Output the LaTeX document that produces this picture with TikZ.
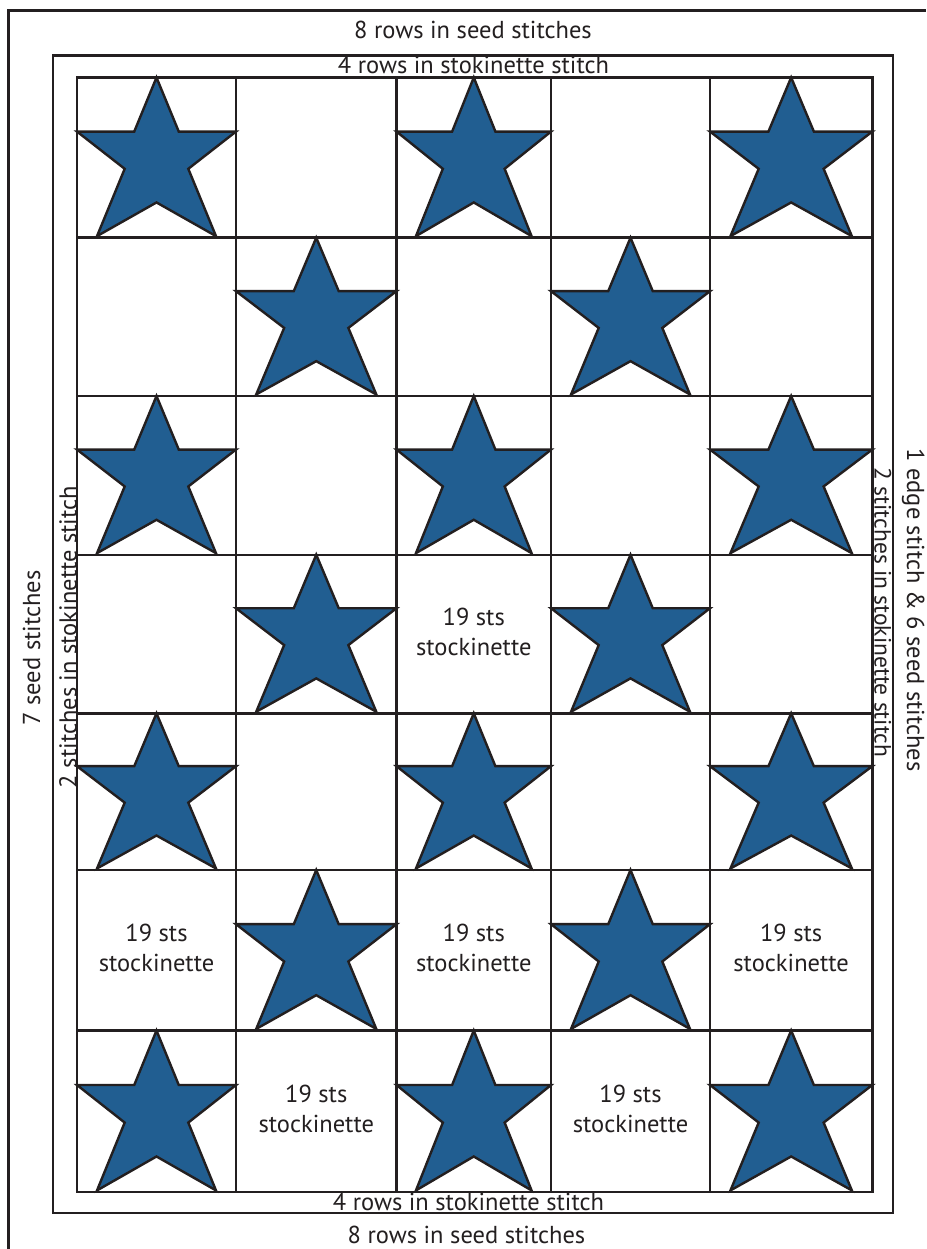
\documentclass[tikz,border=0pt]{standalone}
\usepackage{fontspec}
\setmainfont{PT Sans}
\definecolor{starblue}{HTML}{215E91}
\definecolor{ink}{HTML}{231F20}
\begin{document}
\begin{tikzpicture}[x=1pt,y=-1pt,
  frame/.style={draw=ink, line width=2.4pt},
  starshape/.style={fill=starblue, draw=ink, line width=2.4pt, line join=miter},
  lbl/.style={font=\fontsize{24.5}{30}\selectfont, text=ink, inner sep=0pt},
  celltext/.style={lbl, align=center}]
\useasboundingbox (0,0) rectangle (926,1249);
\fill[white] (0,0) rectangle (926,1249);
% outer and middle frames
\draw[frame] (8.5,1249) -- (8.5,10.5) -- (926,10.5);
\draw[frame] (53,55.5) rectangle (892.7,1213);
% grid
\def\xs{{77,236,396.5,551,710,872.3}}
\def\ys{{77.5,237.7,396,554.7,713.3,870,1030.5,1192}}
\draw[frame] (77,77.5) rectangle (872.3,1192);
\foreach \c in {1,...,4}{
  \pgfmathsetmacro\xx{\xs[\c]}
  \draw[frame] (\xx,77.5) -- (\xx,1192);
}
\foreach \r in {1,...,6}{
  \pgfmathsetmacro\yy{\ys[\r]}
  \draw[frame] (77,\yy) -- (872.3,\yy);
}
% stars
\foreach \r in {0,...,6}{\foreach \c in {0,...,4}{
  \pgfmathtruncatemacro\odd{mod(\r+\c,2)}
  \ifnum\odd=0
    \pgfmathtruncatemacro\cn{\c+1}
    \pgfmathtruncatemacro\rn{\r+1}
    \pgfmathsetmacro\xl{\xs[\c]}
    \pgfmathsetmacro\xr{\xs[\cn]}
    \pgfmathsetmacro\yt{\ys[\r]}
    \pgfmathsetmacro\yb{\ys[\rn]}
    \pgfmathsetmacro\sw{\xr-\xl}
    \pgfmathsetmacro\sh{\yb-\yt}
    \draw[starshape] (\xl+0.5*\sw,\yt) -- (\xl+0.64*\sw,\yt+0.3375*\sh)
      -- (\xl+\sw,\yt+0.3375*\sh) -- (\xl+0.7*\sw,\yt+0.57*\sh)
      -- (\xl+0.874*\sw,\yt+0.99*\sh) -- (\xl+0.5*\sw,\yt+0.78*\sh)
      -- (\xl+0.126*\sw,\yt+0.99*\sh) -- (\xl+0.3*\sw,\yt+0.57*\sh)
      -- (\xl,\yt+0.3375*\sh) -- (\xl+0.36*\sw,\yt+0.3375*\sh) -- cycle;
  \fi
}}
% cell texts
\foreach \r/\c in {3/2,5/0,5/2,5/4,6/1,6/3}{
  \pgfmathtruncatemacro\cn{\c+1}
  \pgfmathtruncatemacro\rn{\r+1}
  \pgfmathsetmacro\xl{\xs[\c]}
  \pgfmathsetmacro\xr{\xs[\cn]}
  \pgfmathsetmacro\yt{\ys[\r]}
  \pgfmathsetmacro\yb{\ys[\rn]}
  \pgfmathsetmacro\cx{(\xl+\xr)/2}
  \pgfmathsetmacro\cy{(\yt+\yb)/2-2}
  \node[celltext] (t\r\c) at (\cx,\cy) {19 sts\\stockinette};
}
% margin labels
\node[lbl, anchor=base] (topouter) at (473,38.3) {8 rows in seed stitches};
\node[lbl, anchor=base] (topinner) at (473.5,74) {4 rows in stokinette stitch};
\node[lbl, anchor=base] (botinner) at (468.5,1210) {4 rows in stokinette stitch};
\node[lbl, anchor=base] (botouter) at (466.5,1243) {8 rows in seed stitches};
\node[lbl, anchor=base, rotate=90] (leftouter) at (40,648) {7 seed stitches};
\node[lbl, anchor=base, rotate=90] (leftinner) at (76.5,637) {2 stitches in stokinette stitch};
\node[lbl, anchor=base, rotate=-90] (rightouter) at (907,610) {1 edge stitch \& 6 seed stitches};
\node[lbl, anchor=base, rotate=-90, font=\fontsize{23.5}{30}\selectfont] (rightinner) at (874.5,612.5) {2 stitches in stokinette stitch};
\end{tikzpicture}
\end{document}
